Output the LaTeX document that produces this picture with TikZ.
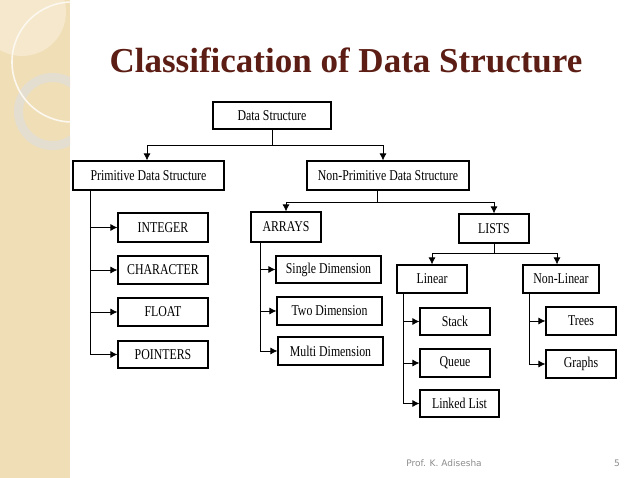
\documentclass[tikz,border=0pt]{standalone}
\usepackage{fontspec}
\usepackage{tikz}
\usetikzlibrary{arrows.meta}
\newfontfamily\dsfont{Liberation Serif}[FakeStretch=0.79]
\newfontfamily\titlefont{Liberation Serif}
\newfontfamily\footfont{DejaVu Sans}
\definecolor{titlebrown}{RGB}{92,30,20}
\definecolor{sidebar}{RGB}{240,222,182}
\definecolor{sidepale}{RGB}{245,232,204}
\definecolor{sidering}{RGB}{228,222,208}
\definecolor{footgray}{RGB}{140,140,140}
\tikzset{
  dsbox/.style={draw=black,line width=1.1pt,inner sep=0pt,font=\dsfont\fontsize{15}{17}\selectfont},
  link/.style={line width=0.9pt},
  arr/.style={line width=0.9pt,-{Latex[length=7pt,width=7pt]}}
}
\begin{document}
\begin{tikzpicture}[x=1pt,y=-1pt]
\useasboundingbox (0,0) rectangle (638,478);

\fill[sidebar] (0,0) rectangle (70,478);
\begin{scope}
\clip (0,0) rectangle (70,478);
\fill[sidepale] (22,12) circle [radius=44pt];
\draw[sidering,line width=9pt] (52.5,111.5) circle [radius=34pt];
\draw[white!80!sidebar,line width=1.6pt] (72,62) circle [radius=60pt];
\end{scope}

\node[] (title) at (346,60) {\titlefont\bfseries\fontsize{35}{40}\selectfont\color{titlebrown}Classification of Data Structure};

\node[dsbox,minimum width=118,minimum height=27] (ds) at (272,115.5) {Data Structure};
\node[dsbox,minimum width=151,minimum height=29] (pds) at (148.5,175.5) {Primitive Data Structure};
\node[dsbox,minimum width=162,minimum height=29] (npds) at (388,175.5) {Non-Primitive Data Structure};

\node[dsbox,minimum width=90,minimum height=29] (int) at (163,227.5) {INTEGER};
\node[dsbox,minimum width=90,minimum height=28] (chr) at (163,270) {CHARACTER};
\node[dsbox,minimum width=90,minimum height=28] (flt) at (163,312) {FLOAT};
\node[dsbox,minimum width=90,minimum height=27] (ptr) at (163,354.5) {POINTERS};

\node[dsbox,minimum width=70,minimum height=30] (arrays) at (286,227) {ARRAYS};
\node[dsbox,minimum width=70,minimum height=29] (lists) at (494,228.5) {LISTS};

\node[dsbox,minimum width=105,minimum height=27] (sd) at (328.5,269.5) {Single Dimension};
\node[dsbox,minimum width=105,minimum height=28] (td) at (329.5,311) {Two Dimension};
\node[dsbox,minimum width=105,minimum height=28] (md) at (330.5,351) {Multi Dimension};

\node[dsbox,minimum width=70,minimum height=28] (lin) at (432,279) {Linear};
\node[dsbox,minimum width=76,minimum height=28] (nlin) at (561,279) {Non-Linear};

\node[dsbox,minimum width=70,minimum height=27] (stk) at (455,321.5) {Stack};
\node[dsbox,minimum width=70,minimum height=28] (que) at (455,363) {Queue};
\node[dsbox,minimum width=79,minimum height=27] (lnk) at (459.5,403.5) {Linked List};
\node[dsbox,minimum width=70,minimum height=28] (tre) at (581,321) {Trees};
\node[dsbox,minimum width=70,minimum height=28] (grp) at (581,364) {Graphs};

\coordinate (b1) at (272,145);
\draw[link] (ds.south) -- (b1);
\draw[arr] (b1) -| ([xshift=-1.5]pds.north);
\draw[arr] (b1) -| ([xshift=-5]npds.north);

\coordinate (b2) at (377,202);
\draw[link] ([xshift=-11]npds.south) -- (b2);
\draw[arr] (b2) -| (arrays.north);
\draw[arr] (b2) -| (lists.north);

\coordinate (b3) at (494,253);
\draw[link] (lists.south) -- (b3);
\draw[arr] (b3) -| (lin.north);
\draw[arr] (b3) -| ([xshift=-4]nlin.north);

\foreach \n in {int,chr,flt,ptr}
  \draw[arr] ([xshift=-58]pds.south) |- (\n.west);
\foreach \n in {sd,td,md}
  \draw[arr] ([xshift=-26]arrays.south) |- (\n.west);
\foreach \n in {stk,que,lnk}
  \draw[arr] ([xshift=-29]lin.south) |- (\n.west);
\foreach \n in {tre,grp}
  \draw[arr] ([xshift=-32]nlin.south) |- (\n.west);

\node[] (author) at (444,463) {\footfont\fontsize{9}{11}\selectfont\color{footgray}Prof. K. Adisesha};
\node[] (page) at (617,463) {\footfont\fontsize{9}{11}\selectfont\color{footgray}5};
\end{tikzpicture}
\end{document}
